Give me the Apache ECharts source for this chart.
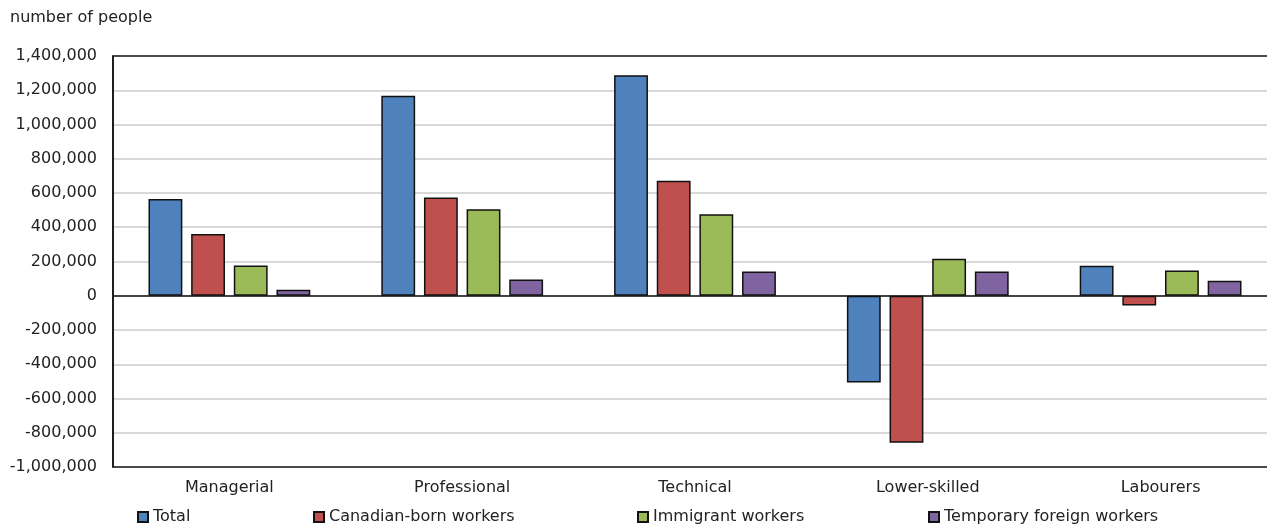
<!DOCTYPE html>
<html>
<head>
<meta charset="utf-8">
<script src="https://cdn.jsdelivr.net/npm/echarts@6/dist/echarts.min.js"></script>
<style>
html,body{margin:0;padding:0;background:#fff;}
#chart{width:1267px;height:527px;}
</style>
</head>
<body>
<div id="chart"></div>
<script>
const categories = ['Managerial', 'Professional', 'Technical', 'Lower-skilled', 'Labourers'];
const totalValues = [565000, 1168000, 1287000, -507000, 175000];
const canadianBornValues = [360000, 573000, 671000, -859000, -57000];
const immigrantValues = [177000, 505000, 476000, 216000, 148000];
const temporaryForeignValues = [35000, 95000, 142000, 142000, 87000];
const seriesNames = ['Total', 'Canadian-born workers', 'Immigrant workers', 'Temporary foreign workers'];
const yAxisTitle = 'number of people';

const colors = ['#4f81bd', '#c0504d', '#9bbb59', '#8064a2'];
const font = 'DejaVu Sans, Verdana, sans-serif';
const textColor = '#222';

const chart = echarts.init(document.getElementById('chart'), null, {renderer: 'canvas'});

function fmt(v) {
  const s = Math.abs(v).toString().replace(/\B(?=(\d{3})+(?!\d))/g, ',');
  return (v < 0 ? '-' : '') + s;
}

const allData = [totalValues, canadianBornValues, immigrantValues, temporaryForeignValues];
const legendLefts = [137, 313, 637, 928];

const series = seriesNames.map((name, i) => {
  const s = {
    name: name,
    type: 'bar',
    data: allData[i],
    barGap: '26%',
    barCategoryGap: '30.5%',
    itemStyle: {color: colors[i], borderColor: '#111', borderWidth: 1.5},
    emphasis: {disabled: true}
  };
  if (i === 0) {
    s.markLine = {
      silent: true,
      symbol: 'none',
      label: {show: false},
      lineStyle: {color: '#111', width: 1.5, type: 'solid'},
      data: [{yAxis: 0}],
      z: 10
    };
  }
  return s;
});

const option = {
  animation: false,
  backgroundColor: '#fff',
  color: colors,
  title: {
    text: yAxisTitle,
    left: 5,
    top: 5,
    textStyle: {fontFamily: font, fontSize: 16, fontWeight: 'normal', color: textColor}
  },
  legend: seriesNames.map((name, i) => ({
    data: [name],
    left: legendLefts[i],
    top: 509,
    icon: 'rect',
    itemWidth: 10,
    itemHeight: 10,
    itemGap: 0,
    padding: 0,
    textStyle: {fontFamily: font, fontSize: 16, color: textColor}
  })),
  grid: {
    left: 113,
    width: 1164,
    top: 56,
    bottom: 60,
    show: true,
    borderColor: '#111',
    borderWidth: 1.5,
    z: 5,
    containLabel: false,
    outerBoundsMode: 'none'
  },
  xAxis: {
    type: 'category',
    data: categories,
    axisLine: {show: false, onZero: false},
    axisTick: {show: false},
    axisLabel: {fontFamily: font, fontSize: 16, color: textColor, margin: 13}
  },
  yAxis: {
    type: 'value',
    min: -1000000,
    max: 1400000,
    interval: 200000,
    axisLine: {show: true, lineStyle: {color: '#111', width: 1.5}},
    axisTick: {show: false},
    axisLabel: {fontFamily: font, fontSize: 16, color: textColor, margin: 16, formatter: fmt},
    splitLine: {show: true, showMinLine: false, showMaxLine: false, lineStyle: {color: '#d9d9d9', width: 2}}
  },
  series: series
};

chart.setOption(option);
</script>
</body>
</html>
